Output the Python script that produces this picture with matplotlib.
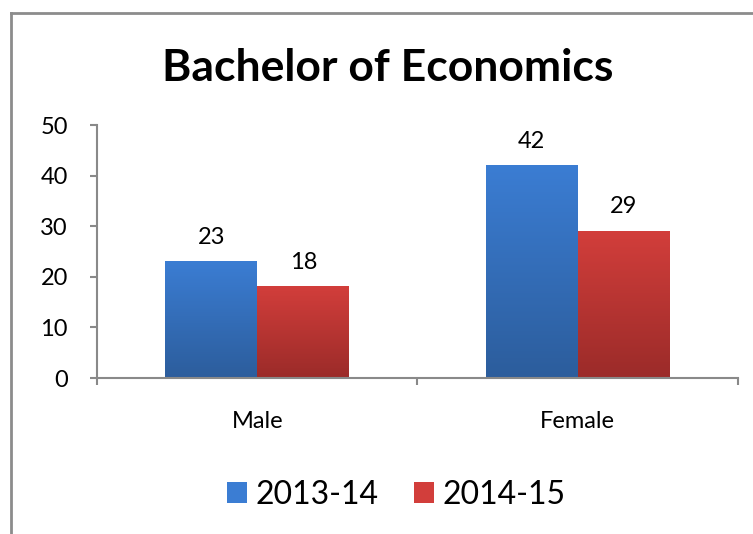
import numpy as np
import matplotlib
matplotlib.use('Agg')
import matplotlib.pyplot as plt
from matplotlib.colors import LinearSegmentedColormap
from matplotlib.patches import Patch
from matplotlib.lines import Line2D

# データ
categories = ['Male', 'Female']
series = ['2013-14', '2014-15']
values_2013 = [23, 42]
values_2014 = [18, 29]
yticks = [0, 10, 20, 30, 40, 50]

plt.rcParams['font.family'] = 'Lato'

# グラデーション色（上→下）
grad = {
    '2013-14': ('#3b7dd3', '#2c5d9c'),
    '2014-15': ('#d23e3b', '#9b2b29'),
}
grid_col = '#898989'

fig = plt.figure(figsize=(7.53, 5.34), dpi=100)
ax = fig.add_axes([0.1288, 0.2921, 0.8512, 0.4738])

x = np.arange(len(categories))
w = 0.287
gradient = np.linspace(0, 1, 256).reshape(-1, 1)

for vals, name, off in [(values_2013, series[0], -w / 2), (values_2014, series[1], w / 2)]:
    top, bottom = grad[name]
    cmap = LinearSegmentedColormap.from_list(name, [bottom, top])
    bars = ax.bar(x + off, vals, width=w, color='none', edgecolor='none')
    for b, v in zip(bars, vals):
        x0 = b.get_x()
        ax.imshow(gradient, cmap=cmap, origin='lower', aspect='auto',
                  extent=[x0, x0 + w, 0, v], zorder=2)
        ax.annotate(str(v), (x0 + w / 2, v), xytext=(0, 10), textcoords='offset points',
                    ha='center', va='bottom', fontsize=17)

ax.set_xlim(-0.5, 1.5)
ax.set_ylim(0, 50)
ax.set_yticks(yticks)
ax.set_xticks(x)
ax.set_xticklabels(categories)
ax.set_xticks([-0.5, 0.5, 1.5], minor=True)
ax.tick_params(axis='x', which='major', length=0, pad=24, labelsize=17)
ax.tick_params(axis='x', which='minor', length=5, width=1.5, color=grid_col)
ax.tick_params(axis='y', length=5, width=1.5, color=grid_col, labelsize=17, pad=16)

for s in ['top', 'right']:
    ax.spines[s].set_visible(False)
for s in ['left', 'bottom']:
    ax.spines[s].set_color(grid_col)
    ax.spines[s].set_linewidth(1.5)

fig.text(0.515, 0.872, 'Bachelor of Economics', ha='center', va='center',
         fontsize=32, fontweight='bold')

handles = [Patch(facecolor=grad[s][0], edgecolor='none') for s in series]
fig.legend(handles, series, loc='center', bbox_to_anchor=(0.526, 0.073), ncol=2,
           frameon=False, fontsize=23, handlelength=0.65, handleheight=0.65,
           handletextpad=0.25, columnspacing=1.1)

# 外枠
fig.add_artist(Line2D([0.0146, 0.0146], [0, 0.975], color='#8c8c8c', lw=2,
                      transform=fig.transFigure))
fig.add_artist(Line2D([0.0146, 1.0], [0.975, 0.975], color='#8c8c8c', lw=2,
                      transform=fig.transFigure))

fig.savefig('out.png', dpi=100)
